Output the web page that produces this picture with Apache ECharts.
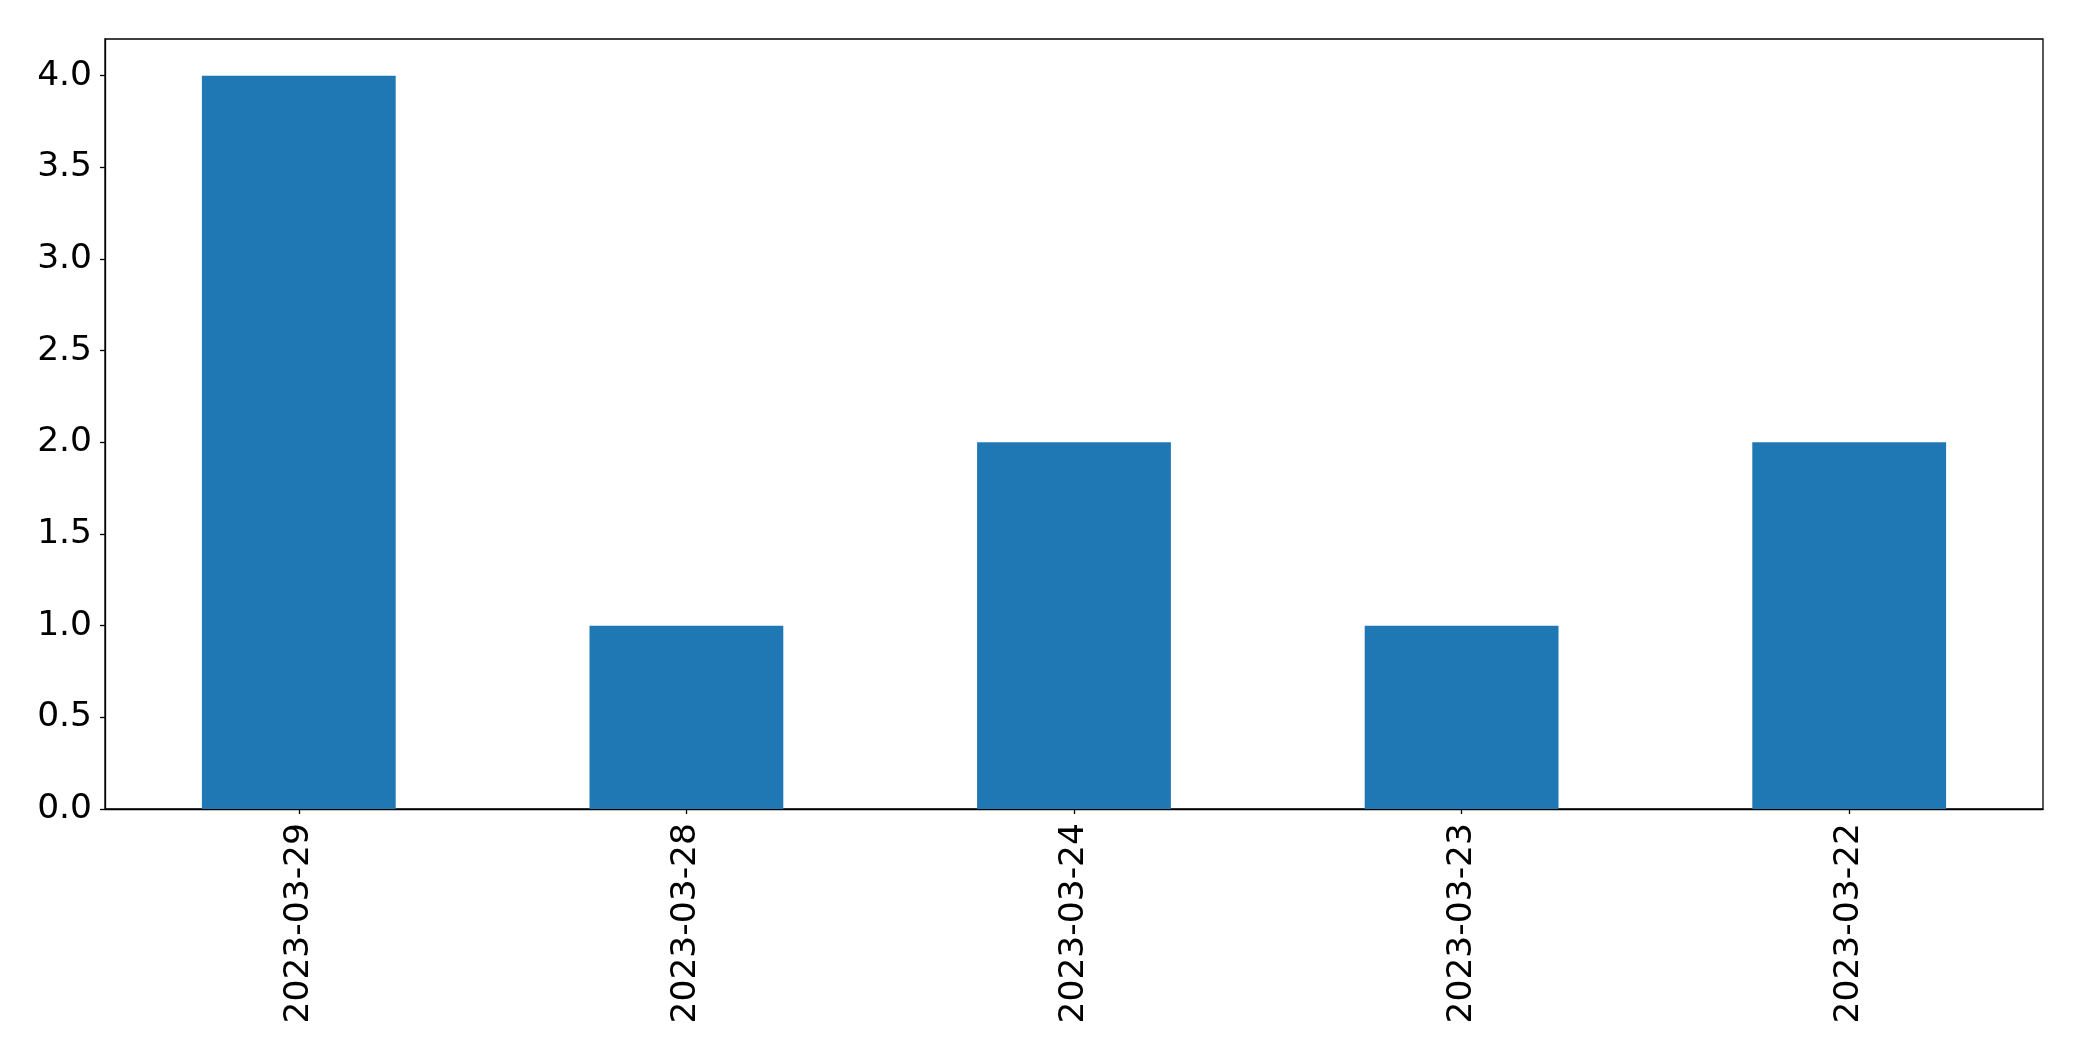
<!DOCTYPE html>
<html>
<head>
<meta charset="utf-8">
<script src="https://cdn.jsdelivr.net/npm/echarts@6/dist/echarts.min.js"></script>
<style>
html,body{margin:0;padding:0;background:#fff;}
#chart{width:2082px;height:1061px;}
</style>
</head>
<body>
<div id="chart"></div>
<script>
const categories = ['2023-03-29', '2023-03-28', '2023-03-24', '2023-03-23', '2023-03-22'];
const values = [4, 1, 2, 1, 2];
const yTicks = [0, 0.5, 1.0, 1.5, 2.0, 2.5, 3.0, 3.5, 4.0];

const chart = echarts.init(document.getElementById('chart'), null, {renderer: 'canvas'});
const font = 'DejaVu Sans';
chart.setOption({
  animation: false,
  backgroundColor: '#fff',
  grid: {
    left: 105, right: 39, top: 39, bottom: 252,
    show: true, borderColor: '#000', borderWidth: 1.3, backgroundColor: 'transparent'
  },
  xAxis: {
    type: 'category',
    data: categories,
    axisLine: {show: true, lineStyle: {color: '#000', width: 1.3}},
    axisTick: {show: true, alignWithLabel: true, length: 5, lineStyle: {color: '#000', width: 1.3}},
    axisLabel: {rotate: 90, fontSize: 34.5, fontFamily: font, color: '#000', margin: 14, interval: 0},
    splitLine: {show: false}
  },
  yAxis: {
    type: 'value',
    min: 0,
    max: 4.2,
    axisLine: {show: true, lineStyle: {color: '#000', width: 1.3}},
    axisTick: {show: true, length: 5, lineStyle: {color: '#000', width: 1.3}, customValues: yTicks},
    axisLabel: {fontSize: 34.5, fontFamily: font, color: '#000', margin: 13, customValues: yTicks,
      formatter: v => Number(v).toFixed(1)},
    splitLine: {show: false}
  },
  series: [{
    type: 'bar',
    data: values,
    barWidth: '50%',
    itemStyle: {color: '#1f77b4'}
  }]
});
</script>
</body>
</html>
